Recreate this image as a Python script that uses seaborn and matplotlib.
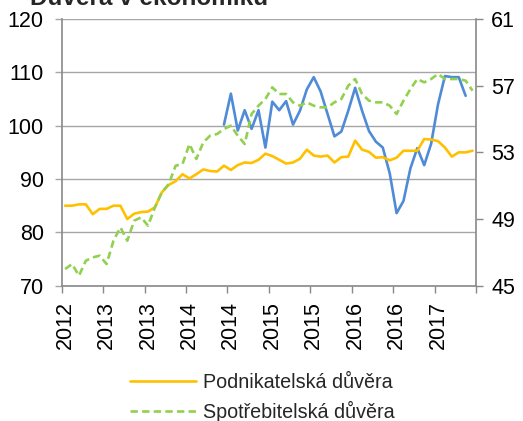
import numpy as np
import pandas as pd
import matplotlib
matplotlib.use("Agg")
import matplotlib.pyplot as plt
import seaborn as sns

# ---- data ----
x_labels = ["2012", "2013", "2013", "2014", "2014", "2015", "2015", "2016", "2016", "2017"]

podnikatelska = [85.0, 85.0, 85.25, 85.25, 83.4, 84.4, 84.4, 85.0, 85.0, 82.5,
                 83.5, 83.8, 83.9, 84.7, 87.5, 88.9, 89.6, 90.9, 90.1, 90.9,
                 91.8, 91.5, 91.4, 92.5, 91.7, 92.6, 93.1, 93.0, 93.6, 94.75,
                 94.3, 93.6, 92.9, 93.1, 93.8, 95.5, 94.4, 94.2, 94.4, 93.1,
                 94.1, 94.2, 97.2, 95.5, 95.1, 94.0, 94.1, 93.5, 94.0, 95.3,
                 95.3, 95.3, 97.5, 97.4, 97.1, 95.9, 94.2, 95.0, 95.0, 95.3]

spotrebitelska = [46.0, 46.3, 45.6, 46.5, 46.7, 46.8, 46.3, 47.7, 48.5, 47.7,
                  48.9, 49.1, 48.6, 49.7, 50.6, 51.1, 52.2, 52.3, 53.5, 52.6,
                  53.6, 54.0, 54.1, 54.4, 54.6, 54.0, 53.5, 55.3, 55.8, 56.2,
                  56.9, 56.5, 56.5, 56.0, 55.8, 56.0, 55.8, 55.7, 55.7, 56.0,
                  56.2, 57.0, 57.4, 56.5, 56.1, 56.0, 56.0, 55.8, 55.3, 56.1,
                  56.8, 57.4, 57.2, 57.4, 57.7, 57.4, 57.4, 57.4, 57.3, 56.7]

treti = [np.nan] * 23 + [100.2, 106.0, 99.1, 102.9, 99.4, 102.9, 95.9,
                         104.5, 102.9, 104.6, 100.2, 102.8, 106.8, 109.1, 106.4, 102.2, 98.0,
                         98.9, 102.8, 107.1, 102.8, 99.0, 97.0, 95.9, 91.1, 83.6, 85.9,
                         92.0, 95.8, 92.6, 96.6, 104.0, 109.3, 109.1, 109.1, 105.6, np.nan]

n = len(podnikatelska)
df = pd.DataFrame({
    "i": np.arange(n),
    "Podnikatelská důvěra": podnikatelska,
    "Spotřebitelská důvěra": spotrebitelska,
    "treti": treti,
})

# ---- style ----
sns.set_style("white")
plt.rcParams["font.family"] = ["Liberation Sans", "DejaVu Sans"]

W, H = 523, 421
fig = plt.figure(figsize=(W / 100, H / 100), dpi=100)
ax = fig.add_axes([61.7 / W, 1 - 285.7 / H, (476 - 61.7) / W, (285.7 - 19) / H])
ax2 = ax.twinx()

yellow = "#FFC000"
green = "#92D050"
blue = "#4F8BD6"
grid_c = "#A6A6A6"
axis_c = "#898989"

sns.lineplot(data=df, x="i", y="treti", ax=ax, color=blue, linewidth=1.9,
             legend=False, zorder=3)
sns.lineplot(data=df, x="i", y="Podnikatelská důvěra", ax=ax, color=yellow,
             linewidth=1.9, zorder=4)
sns.lineplot(data=df, x="i", y="Spotřebitelská důvěra", ax=ax2, color=green,
             linewidth=1.9)
ax2.lines[0].set_dashes((2.8, 1.6))

ax.set_xlim(-0.5, n - 0.5)
ax.set_ylim(70, 120)
ax2.set_ylim(45, 61)
ax.set_yticks(np.arange(70, 121, 10))
ax2.set_yticks([45, 49, 53, 57, 61])

ax.set_xticks(np.arange(0, 60, 6))
ax.set_xticklabels(x_labels, rotation=90)
ax.set_xticks(np.arange(-0.5, n, 6), minor=True)

ax.set_xlabel("")
ax.set_ylabel("")
ax2.set_ylabel("")

ax.grid(axis="y", color=grid_c, linewidth=1.0)
ax.set_axisbelow(True)

for a in (ax, ax2):
    for s in a.spines.values():
        s.set_visible(False)
ax.spines["left"].set_visible(True)
ax.spines["left"].set_color(axis_c)
ax.spines["left"].set_linewidth(1.2)
ax.spines["bottom"].set_visible(True)
ax.spines["bottom"].set_color(axis_c)
ax.spines["bottom"].set_linewidth(1.2)
ax2.spines["right"].set_visible(True)
ax2.spines["right"].set_color(axis_c)
ax2.spines["right"].set_linewidth(1.2)

fs = 15.5
ax.tick_params(axis="y", which="major", length=5, width=1.0, color=grid_c,
               pad=8, labelsize=fs, labelcolor="black", left=True)
ax.tick_params(axis="x", which="major", length=0, pad=11, labelsize=fs,
               labelcolor="black", bottom=True)
ax.tick_params(axis="x", which="minor", length=5, width=1.0, color=axis_c,
               bottom=True)
ax2.tick_params(axis="y", which="major", length=5, width=1.0, color=axis_c,
                pad=6, labelsize=fs, labelcolor="black", right=True)

fig.text(30 / W, 1 - 5 / H, "Důvěra v ekonomiku", fontsize=17.5, fontweight="bold",
         ha="left", va="baseline")

handles = [ax.lines[1], ax2.lines[0]]
leg = fig.legend(handles, ["Podnikatelská důvěra", "Spotřebitelská důvěra"],
                 loc="upper left", bbox_to_anchor=(130 / W, 1 - 373 / H),
                 frameon=False, fontsize=14.2, handlelength=3.35,
                 handletextpad=0.34, labelspacing=0.47, borderpad=0,
                 borderaxespad=0)

fig.savefig("out.png", dpi=100)
